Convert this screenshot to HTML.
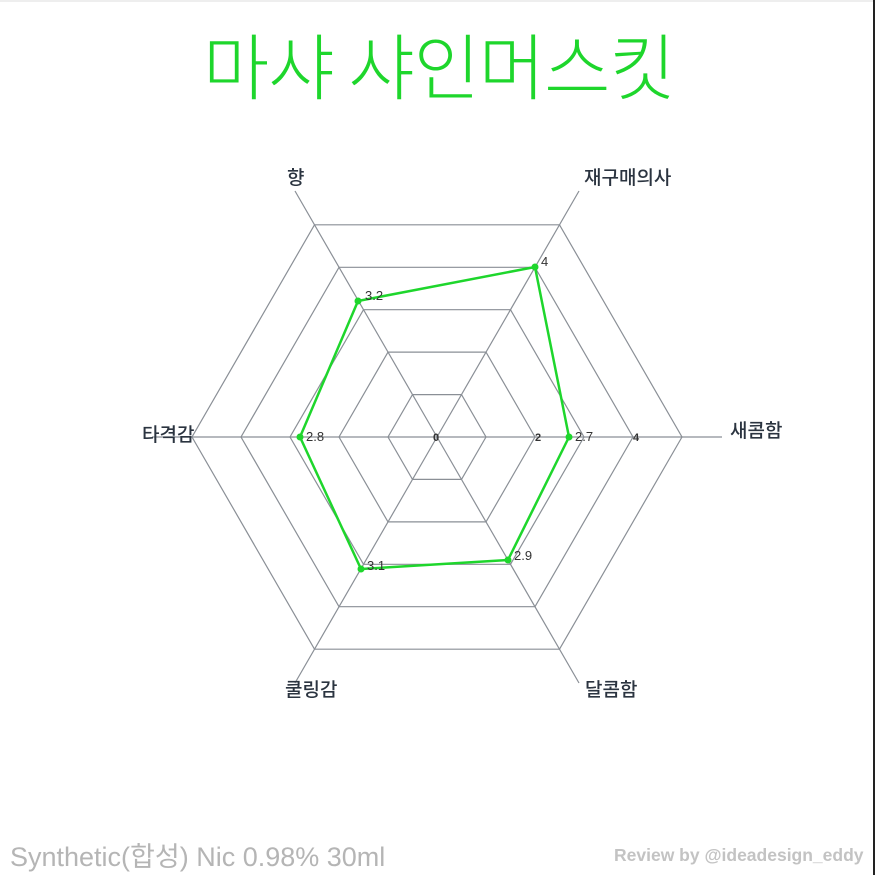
<!DOCTYPE html>
<html><head><meta charset="utf-8"><style>
html,body{margin:0;padding:0;background:#fff;}
body{width:875px;height:875px;position:relative;overflow:hidden;font-family:"Liberation Sans","Noto Sans CJK KR",sans-serif;}
.t{position:absolute;white-space:nowrap;}
</style></head><body>
<div class="t" style="left:0;top:0;width:875px;height:2px;background:#eee"></div>
<div class="t" style="left:203px;top:10px;font-size:72px;font-weight:300;color:#1ed62c;font-family:'Noto Sans CJK KR',sans-serif;letter-spacing:-1px;">마샤 샤인머스킷</div>
<svg width="875" height="875" style="position:absolute;left:0;top:0">
<g fill="none" stroke="#8a8f96" stroke-width="1.2">
<polygon points="486,437 461.5,479.4 412.5,479.4 388,437 412.5,394.6 461.5,394.6"/>
<polygon points="535,437 486,521.9 388,521.9 339,437 388,352.1 486,352.1"/>
<polygon points="584,437 510.5,564.3 363.5,564.3 290,437 363.5,309.7 510.5,309.7"/>
<polygon points="633,437 535,606.7 339,606.7 241,437 339,267.3 535,267.3"/>
<polygon points="682,437 559.5,649.2 314.5,649.2 192,437 314.5,224.8 559.5,224.8"/>
<line x1="437" y1="437" x2="722" y2="437"/>
<line x1="437" y1="437" x2="152" y2="437"/>
<line x1="437" y1="437" x2="579" y2="191"/>
<line x1="437" y1="437" x2="295" y2="191"/>
<line x1="437" y1="437" x2="579" y2="683"/>
<line x1="437" y1="437" x2="295" y2="683"/>
</g>
<polygon points="358,301 535,267 569,437 508,560 361,569 300,437" fill="none" stroke="#1ed62c" stroke-width="2.5" stroke-linejoin="round"/>
<g fill="#1ed62c"><circle cx="358" cy="301" r="3.5"/><circle cx="535" cy="267" r="3.5"/><circle cx="569" cy="437" r="3.5"/><circle cx="508" cy="560" r="3.5"/><circle cx="361" cy="569" r="3.5"/><circle cx="300" cy="437" r="3.5"/></g>
<g font-family="Liberation Sans,sans-serif" font-size="13" fill="#333">
<text x="365" y="300">3.2</text><text x="541" y="266">4</text><text x="575" y="441">2.7</text>
<text x="514" y="560">2.9</text><text x="367" y="570">3.1</text><text x="306" y="441">2.8</text>
<g font-weight="bold" font-size="11"><text x="433" y="441">0</text><text x="535" y="441">2</text><text x="633" y="441">4</text></g>
</g>
<g font-family="Noto Sans CJK KR,sans-serif" font-size="19" fill="#2b3440" font-weight="500">
<text x="287" y="184">향</text><text x="584" y="184">재구매의사</text><text x="730" y="437">새콤함</text>
<text x="142" y="441">타격감</text><text x="285" y="696">쿨링감</text><text x="585" y="696">달콤함</text>
</g>
</svg>
<div class="t" style="left:10px;top:835px;font-size:27px;color:#b5b5b5;letter-spacing:0;">Synthetic(합성) Nic 0.98% 30ml</div>
<div class="t" style="left:614px;top:845px;font-size:17.5px;color:#c3c3c3;font-weight:bold;">Review by @ideadesign_eddy</div>
<div class="t" style="left:873px;top:0;width:2px;height:875px;background:#222"></div>
</body></html>
